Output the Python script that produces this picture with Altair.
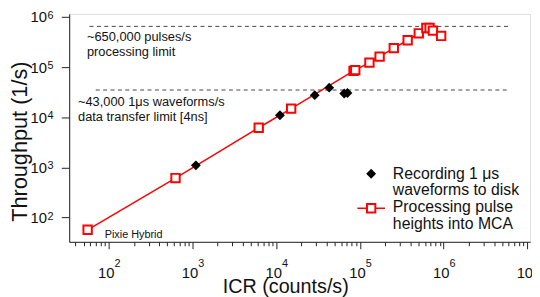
import altair as alt
import pandas as pd

# ---- data ----
red_x = [56, 628, 6190, 15100, 84000, 88000, 130000, 172000, 254000, 372000, 505000, 622000, 680000, 745000, 934000]
red_y = [57, 613, 6180, 14900, 84500, 87000, 123000, 162000, 240000, 344000, 473000, 603000, 603000, 535000, 419000]

blk_x = [1100, 11100, 28900, 43000, 65000, 71000]
blk_y = [1100, 11000, 27600, 39000, 29800, 30500]

limit_y = [650000, 35000]
limit_x0 = [59, 70]
limit_x1 = [6250000, 5700000]

ann_text = ["~650,000 pulses/s", "processing limit", "~43,000 1\u03bcs waveforms/s", "data transfer limit [4ns]"]
ann_x = [55, 55, 43, 43]
ann_y = [395000, 200000, 20300, 10300]

x_major = [1e2, 1e3, 1e4, 1e5, 1e6, 1e7]
x_exp = ["2", "3", "4", "5", "6", "7"]
x_minor = [m * 10 ** k for k in range(1, 7) for m in range(2, 10)]
y_major = [1e2, 1e3, 1e4, 1e5, 1e6]
y_exp = ["2", "3", "4", "5", "6"]

legend_labels = ["Recording 1 \u03bcs\nwaveforms to disk", "Processing pulse\nheights into MCA"]
note_label = "Pixie Hybrid"

X_DOMAIN = [10 ** 1.528, 10 ** 7.032]
Y_DOMAIN = [10 ** 1.516, 10 ** 6.063]

W, H = 467, 231
FONT = "Liberation Sans"
TXT = "#111"

is_major = "abs(log(datum.value)/LN10 - round(log(datum.value)/LN10)) < 0.001"

xscale = alt.Scale(type="log", domain=X_DOMAIN, nice=False)
yscale = alt.Scale(type="log", domain=Y_DOMAIN, nice=False)

xaxis = alt.Axis(
    values=sorted(x_major + x_minor),
    labelExpr="(" + is_major + ") ? '10' : ''",
    labelOverlap=False, labelFlush=False,
    labelFontSize=15, labelFont=FONT, labelColor=TXT,
    labelBaseline="alphabetic", labelPadding=29, labelOffset=-3,
    tickSize={"condition": {"test": is_major, "value": 7}, "value": 4},
    tickColor="#222", domainColor="#222", tickWidth=1,
    grid=False,
    title="ICR (counts/s)", titleFontSize=20, titleFont=FONT, titleFontWeight="normal",
    titleColor=TXT, titleX=219, titleY=51, titleBaseline="alphabetic",
)
yaxis = alt.Axis(
    values=y_major,
    labelExpr="'10'",
    labelFontSize=15, labelFont=FONT, labelColor=TXT,
    labelPadding=15, tickSize=8, tickColor="#222", domainColor="#222",
    grid=False,
    title="Throughput (1/s)", titleFontSize=22, titleFont=FONT, titleFontWeight="normal",
    titleColor=TXT, titleX=-43, titleY=129, titleBaseline="alphabetic", titleAngle=270,
)

red_df = pd.DataFrame({"x": red_x, "y": red_y})
blk_df = pd.DataFrame({"x": blk_x, "y": blk_y})
lim_df = pd.DataFrame({"x0": limit_x0, "x1": limit_x1, "y": limit_y})
ann_df = pd.DataFrame({"t": ann_text, "x": ann_x, "y": ann_y})
xexp_df = pd.DataFrame({"v": x_major, "e": x_exp})
yexp_df = pd.DataFrame({"v": y_major, "e": y_exp})

base_x = alt.X("x:Q", scale=xscale, axis=xaxis)
base_y = alt.Y("y:Q", scale=yscale, axis=yaxis)

lim = alt.Chart(lim_df).mark_rule(color="#444", strokeDash=[4, 3.5], strokeWidth=1).encode(
    x=alt.X("x0:Q", scale=xscale, axis=xaxis), x2="x1:Q", y=base_y)

ann = alt.Chart(ann_df).mark_text(align="left", baseline="middle", fontSize=13, font=FONT, color=TXT).encode(
    x=alt.X("x:Q", scale=xscale), y=alt.Y("y:Q", scale=yscale), text="t:N")

# exponents of the axis labels
xexp = alt.Chart(xexp_df).mark_text(align="left", baseline="alphabetic", fontSize=11, font=FONT, color=TXT,
                                     dx=6).encode(
    x=alt.X("v:Q", scale=xscale), y=alt.value(H + 26), text="e:N")
yexp = alt.Chart(yexp_df).mark_text(align="left", baseline="alphabetic", fontSize=11, font=FONT, color=TXT,
                                     dy=2).encode(
    x=alt.value(-22), y=alt.Y("v:Q", scale=yscale), text="e:N")

red_line = alt.Chart(red_df).mark_line(color="#ff0000", strokeWidth=1.5).encode(x=base_x, y=base_y)
red_pts = alt.Chart(red_df).mark_point(shape="square", size=72, filled=False, fill="white", fillOpacity=1,
                                        stroke="#ff0000", strokeWidth=2, opacity=1).encode(x=base_x, y=base_y)
blk_pts = alt.Chart(blk_df).mark_point(shape="diamond", size=100, filled=True, color="black", opacity=1).encode(
    x=base_x, y=base_y)

# ---- legend (manual) ----
leg_text = alt.Chart(pd.DataFrame({"t": [legend_labels[0]]})).mark_text(
    align="left", baseline="middle", fontSize=16, font=FONT, color=TXT, lineHeight=17, lineBreak="\n"
).encode(text="t:N", x=alt.value(328), y=alt.value(162))
leg_text2 = alt.Chart(pd.DataFrame({"t": [legend_labels[1]]})).mark_text(
    align="left", baseline="middle", fontSize=16, font=FONT, color=TXT, lineHeight=17, lineBreak="\n"
).encode(text="t:N", x=alt.value(328), y=alt.value(196))
leg_dia = alt.Chart(pd.DataFrame({"a": [0]})).mark_point(shape="diamond", size=100, filled=True, color="black",
                                                         opacity=1).encode(x=alt.value(306), y=alt.value(162))
leg_line = alt.Chart(pd.DataFrame({"a": [0]})).mark_rule(color="#ff0000", strokeWidth=1.5).encode(
    x=alt.value(292), x2=alt.value(320), y=alt.value(197))
leg_sq = alt.Chart(pd.DataFrame({"a": [0]})).mark_point(shape="square", size=72, filled=False, fill="white",
                                                        fillOpacity=1, stroke="#ff0000", strokeWidth=2,
                                                        opacity=1).encode(x=alt.value(306), y=alt.value(197))
pixie = alt.Chart(pd.DataFrame({"t": [note_label]})).mark_text(
    align="left", baseline="middle", fontSize=11, font=FONT, color=TXT).encode(
    text="t:N", x=alt.value(36), y=alt.value(224))

chart = alt.layer(lim, ann, red_line, red_pts, blk_pts, xexp, yexp,
                  leg_text, leg_text2, leg_dia, leg_line, leg_sq, pixie).properties(
    width=W, height=H,
    autosize=alt.AutoSizeParams(type="none"),
    padding={"left": 62, "top": 4, "right": 2, "bottom": 54},
).configure_view(stroke="#222", strokeWidth=1).configure(background="white")

chart.save("out.html", embed_options={"renderer": "svg", "actions": False})
